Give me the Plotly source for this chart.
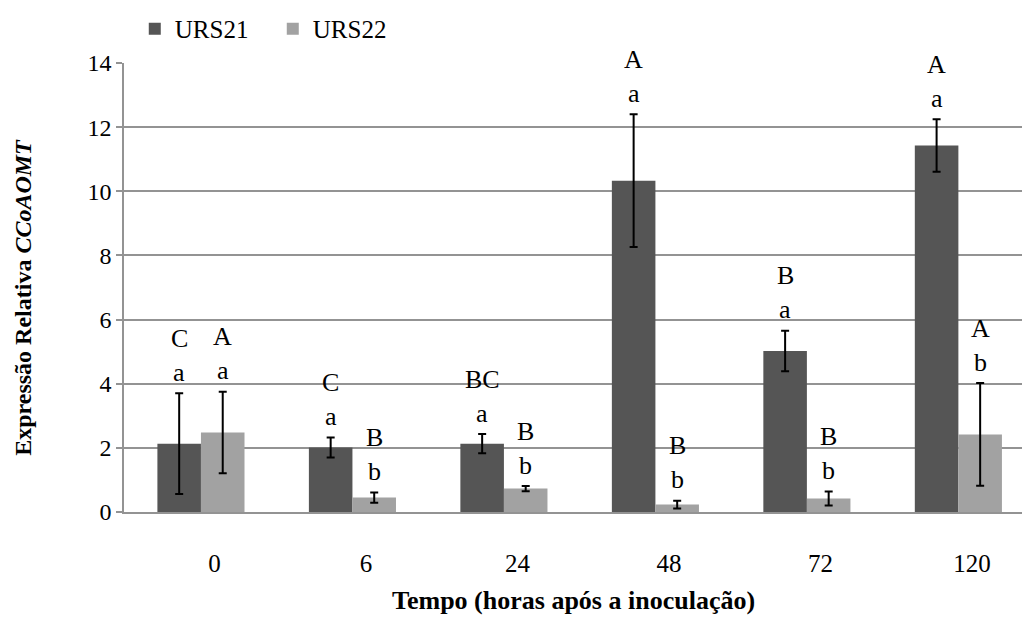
import plotly.graph_objects as go

# ---- data ----
categories = ["0", "6", "24", "48", "72", "120"]
series_names = ["URS21", "URS22"]
urs21 = [2.13, 2.01, 2.13, 10.33, 5.02, 11.43]
urs21_err = [1.57, 0.31, 0.30, 2.07, 0.63, 0.82]
urs22 = [2.48, 0.45, 0.73, 0.23, 0.42, 2.42]
urs22_err = [1.27, 0.16, 0.08, 0.12, 0.22, 1.60]
urs21_upper = ["C", "C", "BC", "A", "B", "A"]
urs21_lower = ["a", "a", "a", "a", "a", "a"]
urs22_upper = ["A", "B", "B", "B", "B", "A"]
urs22_lower = ["a", "b", "b", "b", "b", "b"]
y_ticks = [0, 2, 4, 6, 8, 10, 12, 14]

# ---- style ----
FONT = "Liberation Serif"
DARK = "#555555"
LIGHT = "#a2a2a2"
GRID = "#939393"
BARGAP = 0.425
LABEL_SHIFT = 0.09

xpos = list(range(len(categories)))

fig = go.Figure()
fig.add_trace(go.Bar(
    x=xpos, y=urs21, name=series_names[0], marker_color=DARK,
    marker_line_width=0,
    error_y=dict(type="data", array=urs21_err, visible=True,
                 color="black", thickness=2, width=4),
))
fig.add_trace(go.Bar(
    x=xpos, y=urs22, name=series_names[1], marker_color=LIGHT,
    marker_line_width=0,
    error_y=dict(type="data", array=urs22_err, visible=True,
                 color="black", thickness=2, width=4),
))

# significance letters above error bars
half = (1 - BARGAP) / 4
annotations = []
for vals, errs, up, low, off in [
    (urs21, urs21_err, urs21_upper, urs21_lower, -half),
    (urs22, urs22_err, urs22_upper, urs22_lower, half),
]:
    for i in xpos:
        top = vals[i] + errs[i]
        annotations.append(dict(x=i + off, y=top, text=low[i], showarrow=False,
                                xref="x", yref="y", yanchor="middle", yshift=21,
                                font=dict(family=FONT, size=26, color="black")))
        annotations.append(dict(x=i + off, y=top, text=up[i], showarrow=False,
                                xref="x", yref="y", yanchor="middle", yshift=55,
                                font=dict(family=FONT, size=26, color="black")))

# axis titles
annotations.append(dict(text="<b>Expressão Relativa <i>CCoAOMT</i></b>",
                        xref="paper", yref="paper", x=-0.112, y=0.478,
                        textangle=-90, showarrow=False, xanchor="center", yanchor="middle",
                        font=dict(family=FONT, size=24, color="black")))
annotations.append(dict(text="<b>Tempo (horas após a inoculação)</b>",
                        xref="paper", yref="paper", x=0.501, y=-0.198,
                        showarrow=False, xanchor="center", yanchor="middle",
                        font=dict(family=FONT, size=26, color="black")))

fig.update_layout(
    width=1023, height=619,
    margin=dict(l=124, r=1, t=63, b=107),
    paper_bgcolor="white", plot_bgcolor="white",
    barmode="group", bargap=BARGAP, bargroupgap=0,
    font=dict(family=FONT, color="black"),
    showlegend=True,
    legend=dict(orientation="h", x=0.012, xanchor="left", y=1.076, yanchor="middle",
                font=dict(family=FONT, size=25, color="black"),
                entrywidth=93, entrywidthmode="pixels",
                bgcolor="rgba(0,0,0,0)", itemclick=False, itemdoubleclick=False),
    annotations=annotations,
)
fig.update_xaxes(
    range=[-0.508, 5.42], tickvals=[i + LABEL_SHIFT for i in xpos], ticktext=categories,
    showgrid=False, zeroline=False, showline=True, linecolor=GRID, linewidth=1.5,
    ticks="", ticklabelstandoff=28, tickfont=dict(family=FONT, size=25, color="black"),
)
fig.update_yaxes(
    range=[0, 14], tickvals=y_ticks, showgrid=True, gridcolor=GRID, gridwidth=1.5,
    zeroline=False, showline=True, linecolor=GRID, linewidth=1.5,
    ticks="outside", ticklen=6, tickcolor=GRID, tickwidth=1.5,
    tickfont=dict(family=FONT, size=24, color="black"),
)

fig.write_html("out.html")
